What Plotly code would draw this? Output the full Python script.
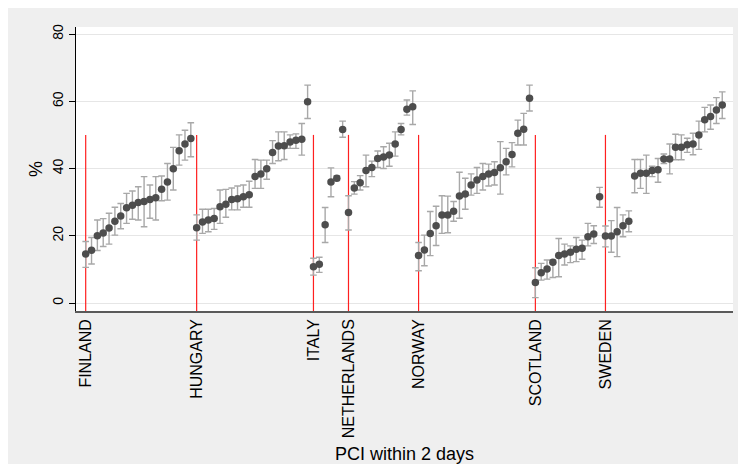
import plotly.graph_objects as go
import numpy as np

countries = ["FINLAND", "HUNGARY", "ITALY", "NETHERLANDS", "NORWAY", "SCOTLAND", "SWEDEN"]

finland_pct = [14.6, 15.7, 20.0, 20.8, 22.3, 24.3, 25.9, 28.3, 29.1, 29.9, 30.2, 30.8, 31.3, 33.8, 36.0, 39.9, 45.3, 47.3, 48.9]
finland_lo = [10.6, 11.6, 15.6, 16.8, 17.5, 20.2, 22.1, 23.7, 24.9, 24.7, 22.7, 25.2, 24.7, 30.4, 30.6, 33.6, 41.0, 42.5, 43.5]
finland_hi = [18.3, 19.5, 24.7, 25.1, 26.7, 28.5, 29.6, 32.6, 33.3, 34.6, 37.6, 35.1, 37.6, 37.8, 41.5, 46.3, 50.0, 51.4, 53.6]

hungary_pct = [22.4, 24.1, 24.7, 25.1, 28.6, 29.4, 30.8, 31.0, 31.6, 32.2, 37.6, 38.4, 39.9, 44.8, 46.7, 46.8, 47.9, 48.4, 48.7, 59.9]
hungary_lo = [18.7, 20.7, 21.2, 21.9, 23.7, 25.5, 27.7, 27.7, 28.5, 28.5, 34.1, 34.1, 36.8, 41.5, 42.3, 42.7, 46.0, 46.0, 44.0, 54.9]
hungary_hi = [26.2, 27.9, 27.9, 28.1, 33.6, 33.8, 34.2, 34.8, 35.1, 36.2, 42.7, 42.5, 42.5, 48.3, 50.9, 50.9, 50.0, 50.3, 53.4, 64.8]

italy_pct = [10.8, 11.5, 23.3, 36.0, 37.1, 51.6]
italy_lo = [8.3, 9.1, 18.0, 31.6, 36.4, 49.3]
italy_hi = [13.3, 13.6, 28.4, 40.2, 37.9, 54.1]

netherlands_pct = [26.9, 34.2, 35.8, 39.4, 40.3, 43.0, 43.4, 44.0, 47.3, 51.6, 57.6, 58.4]
netherlands_lo = [21.7, 32.4, 33.6, 34.6, 37.6, 40.3, 40.0, 40.7, 43.7, 50.0, 55.9, 53.1]
netherlands_hi = [31.9, 36.1, 37.9, 44.0, 42.2, 45.2, 46.5, 47.5, 50.9, 53.4, 60.4, 63.1]

norway_pct = [14.1, 15.8, 20.7, 23.0, 26.2, 26.2, 27.3, 31.8, 32.4, 35.1, 36.6, 37.6, 38.4, 38.8, 40.2, 42.0, 44.2, 50.5, 51.7, 60.9]
norway_lo = [9.6, 11.1, 14.1, 17.1, 20.7, 20.9, 24.3, 25.2, 27.9, 32.1, 32.6, 33.6, 34.8, 35.1, 32.4, 38.1, 40.5, 47.0, 47.0, 57.1]
norway_hi = [18.0, 20.2, 27.2, 28.8, 31.9, 31.8, 30.2, 38.9, 37.1, 38.4, 40.3, 41.5, 41.3, 42.0, 48.0, 46.0, 47.7, 54.4, 56.4, 64.8]

scotland_pct = [6.1, 9.0, 10.1, 12.1, 14.1, 14.6, 15.1, 16.0, 16.3, 19.7, 20.5, 31.6]
scotland_lo = [1.6, 6.8, 7.1, 7.6, 7.8, 11.3, 12.0, 12.3, 13.0, 17.0, 17.7, 28.5]
scotland_hi = [10.5, 11.8, 12.8, 12.8, 19.2, 17.5, 17.0, 19.5, 18.7, 23.7, 23.0, 34.4]

sweden_pct = [19.9, 19.9, 21.2, 23.0, 24.3, 37.8, 38.6, 38.6, 39.4, 39.6, 42.8, 42.8, 46.3, 46.3, 47.1, 47.3, 50.0, 54.5, 55.5, 57.4, 58.9]
sweden_lo = [16.7, 15.1, 13.8, 19.7, 21.2, 32.8, 34.1, 32.6, 37.6, 35.9, 41.5, 38.4, 42.6, 42.6, 44.8, 44.1, 45.7, 50.9, 51.7, 53.4, 54.9]
sweden_hi = [22.9, 24.5, 28.4, 26.2, 27.4, 42.7, 42.7, 44.0, 40.7, 43.0, 44.3, 47.3, 50.2, 50.0, 49.0, 50.5, 54.1, 58.2, 58.9, 61.1, 62.8]

y_ticks = [0, 20, 40, 60, 80]
marker_line_top = 50

pct_groups = [finland_pct, hungary_pct, italy_pct, netherlands_pct, norway_pct, scotland_pct, sweden_pct]
lo_groups = [finland_lo, hungary_lo, italy_lo, netherlands_lo, norway_lo, scotland_lo, sweden_lo]
hi_groups = [finland_hi, hungary_hi, italy_hi, netherlands_hi, norway_hi, scotland_hi, sweden_hi]

pct = np.concatenate(pct_groups)
lo = np.concatenate(lo_groups)
hi = np.concatenate(hi_groups)
x = np.arange(len(pct))
sizes = [len(g) for g in pct_groups]
starts = [int(v) for v in np.cumsum([0] + sizes[:-1])]

y_range = [-2.38, 82.1]
x_range = [-1.66, 110.84]

fig = go.Figure()

lx, ly = [], []
for s in starts:
    lx += [s, s, None]
    ly += [y_range[0], marker_line_top, None]
fig.add_trace(go.Scatter(x=lx, y=ly, mode="lines", line=dict(color="#ff2020", width=1.2),
                         hoverinfo="skip", showlegend=False))

fig.add_trace(go.Scatter(
    x=x, y=pct, mode="markers",
    marker=dict(color="#4d4d4d", size=7.5),
    error_y=dict(type="data", symmetric=False, array=hi - pct, arrayminus=pct - lo,
                 color="#a8a8a8", thickness=1.4, width=3.3),
    showlegend=False,
))

font_family = "Liberation Sans, Arial, Helvetica, sans-serif"

fig.update_layout(
    width=746, height=464,
    margin=dict(l=68, r=21, t=19, b=161),
    paper_bgcolor="#efefef",
    plot_bgcolor="#ffffff",
    font=dict(family=font_family, color="#000000"),
    xaxis=dict(
        range=x_range, tickvals=starts, ticktext=countries, tickangle=-90,
        showgrid=False, zeroline=False, showline=True, linecolor="#5a5a5a", linewidth=1.5,
        ticks="",
        tickfont=dict(size=16, family=font_family, color="#000000"),
        title=dict(text="PCI within 2 days", font=dict(size=18, family=font_family), standoff=10),
        automargin=False,
    ),
    yaxis=dict(
        range=y_range, tickvals=y_ticks, tickangle=-90,
        showgrid=True, gridcolor="#e6e6e6", gridwidth=1, zeroline=False,
        showline=True, linecolor="#000000", linewidth=1,
        ticks="outside", ticklen=6, tickcolor="#000000",
        tickfont=dict(size=14, family=font_family, color="#000000"),
        title=dict(text="%", font=dict(size=18, family=font_family), standoff=3),
        automargin=False,
    ),
)

fig.write_html("out.html")
